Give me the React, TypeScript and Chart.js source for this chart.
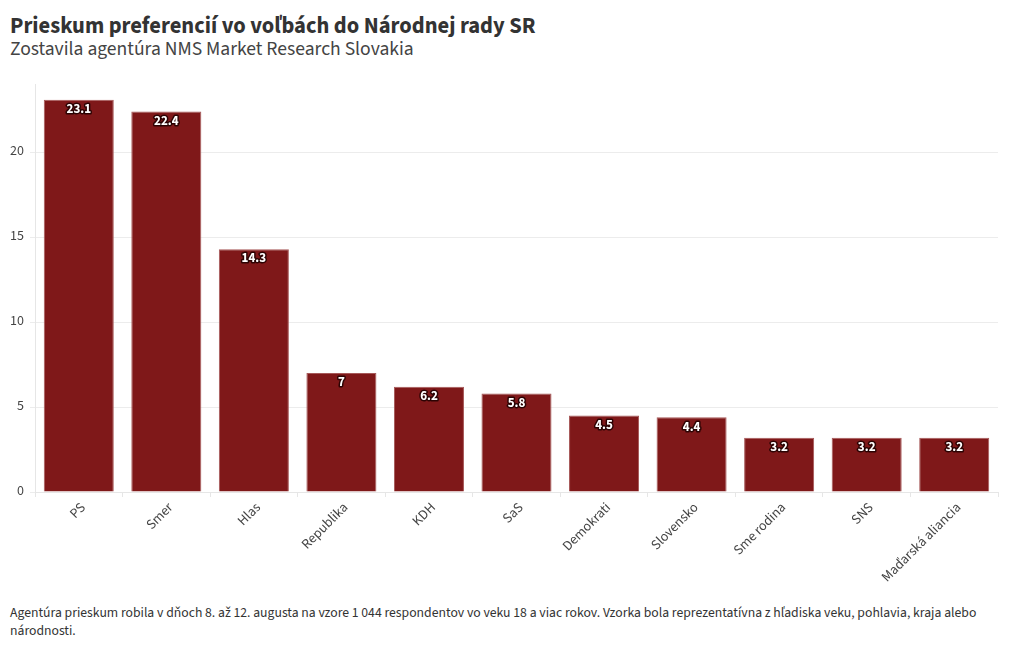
import React, { useEffect, useRef } from "react";
import { Chart, registerables } from "chart.js";

Chart.register(...registerables);

const categories = ["PS", "Smer", "Hlas", "Republika", "KDH", "SaS", "Demokrati", "Slovensko", "Sme rodina", "SNS", "Maďarská aliancia"];
const values = [23.1, 22.4, 14.3, 7, 6.2, 5.8, 4.5, 4.4, 3.2, 3.2, 3.2];
const yTicks = [0, 5, 10, 15, 20];

const titleText = "Prieskum preferencií vo voľbách do Národnej rady SR";
const subtitleText = "Zostavila agentúra NMS Market Research Slovakia";
const footerText = "Agentúra prieskum robila v dňoch 8. až 12. augusta na vzore 1 044 respondentov vo veku 18 a viac rokov. Vzorka bola reprezentatívna z hľadiska veku, pohlavia, kraja alebo národnosti.";

const FONT = "'Source Sans Pro', 'Source Sans 3', Lato, 'Noto Sans', sans-serif";

const labelPlugin = {
  id: "barLabels",
  afterDatasetsDraw(chart: any) {
    const ctx = chart.ctx;
    const meta = chart.getDatasetMeta(0);
    ctx.save();
    ctx.font = `bold 13px ${FONT}`;
    ctx.textAlign = "center";
    ctx.textBaseline = "middle";
    ctx.lineJoin = "round";
    meta.data.forEach((bar: any, i: number) => {
      const txt = String(values[i]);
      const y = bar.y + 10.5;
      ctx.strokeStyle = "rgba(30,0,0,0.85)";
      ctx.lineWidth = 3;
      ctx.strokeText(txt, bar.x, y);
      ctx.fillStyle = "#ffffff";
      ctx.fillText(txt, bar.x, y);
    });
    ctx.restore();
  },
};

export default function App() {
  const ref = useRef<HTMLCanvasElement | null>(null);
  useEffect(() => {
    if (!ref.current) return;
    const chart = new Chart(ref.current, {
      type: "bar",
      data: {
        labels: categories,
        datasets: [
          {
            data: values,
            backgroundColor: "#7f1819",
            borderColor: "#a65858",
            borderWidth: 1,
            categoryPercentage: 1,
            barPercentage: 0.8,
          },
        ],
      },
      options: {
        animation: false,
        responsive: false,
        maintainAspectRatio: false,
        layout: { padding: { top: 12, right: 22, left: 0, bottom: 0 } },
        plugins: {
          legend: { display: false },
          tooltip: { enabled: false },
        },
        scales: {
          x: {
            grid: { display: true, drawOnChartArea: false, color: "#e6e6e6", tickLength: 5 },
            border: { color: "#e6e6e6" },
            ticks: {
              color: "#444",
              font: { family: FONT, size: 14 },
              maxRotation: 45,
              minRotation: 45,
              autoSkip: false,
              padding: 3,
              labelOffset: 5,
            },
            afterFit(scale: any) {
              scale.height = 108;
            },
          },
          y: {
            min: 0,
            max: 24,
            afterBuildTicks(scale: any) {
              scale.ticks = yTicks.map((v) => ({ value: v }));
            },
            grid: { color: "#ececec", tickLength: 5 },
            border: { color: "#e6e6e6" },
            ticks: {
              color: "#444",
              font: { family: FONT, size: 14 },
              padding: 6,
            },
            afterFit(scale: any) {
              scale.width = 35;
            },
          },
        },
      },
      plugins: [labelPlugin],
    });
    return () => chart.destroy();
  }, []);

  return (
    <div style={{ position: "absolute", left: 0, top: 0, width: 1020, height: 650, background: "#fff", fontFamily: FONT, color: "#333" }}>
      <div style={{ position: "absolute", left: 10, top: 10, fontSize: 22.5, fontWeight: 700, color: "#333", whiteSpace: "nowrap" }}>{titleText}</div>
      <div style={{ position: "absolute", left: 10, top: 35, fontSize: 19.6, color: "#444", whiteSpace: "nowrap" }}>{subtitleText}</div>
      <canvas ref={ref} width={1020} height={530} style={{ position: "absolute", left: 0, top: 70, width: 1020, height: 530 }} />
      <div style={{ position: "absolute", left: 10, top: 604, width: 1000, fontSize: 13.7, lineHeight: "18px", color: "#333" }}>{footerText}</div>
    </div>
  );
}
